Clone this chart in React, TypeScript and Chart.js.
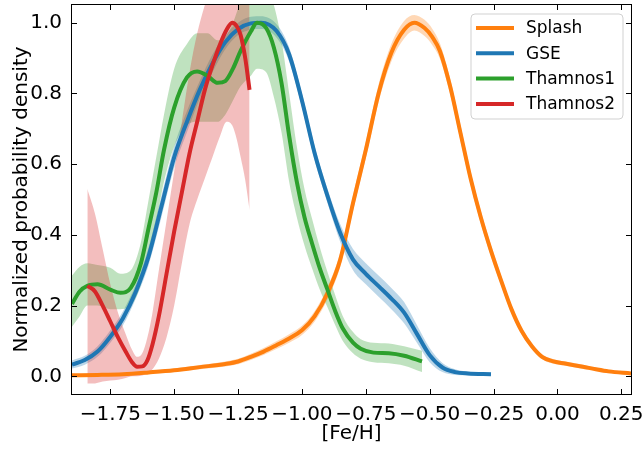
import React, { useEffect, useRef } from "react";
import { Chart, registerables } from "chart.js";

Chart.register(...registerables);

// ---------- data ----------
const SERIES_NAMES = ["Splash", "GSE", "Thamnos1", "Thamnos2"];
const COLORS = ["#ff7f0e", "#1f77b4", "#2ca02c", "#d62728"];
const BAND_COLORS = [
  "rgba(255,127,14,0.3)",
  "rgba(31,119,180,0.3)",
  "rgba(44,160,44,0.3)",
  "rgba(214,39,40,0.3)",
];

const X_TICKS = [-1.75, -1.5, -1.25, -1.0, -0.75, -0.5, -0.25, 0, 0.25];
const Y_TICKS = [0, 0.2, 0.4, 0.6, 0.8, 1.0];

// Splash
const SPLASH_X = [-1.9, -1.8, -1.7, -1.6, -1.5, -1.4, -1.3, -1.25, -1.2, -1.15, -1.1, -1.05, -1.0, -0.95, -0.9, -0.85, -0.8, -0.75, -0.7, -0.65, -0.6, -0.56, -0.52, -0.49, -0.46, -0.42, -0.38, -0.34, -0.3, -0.26, -0.22, -0.18, -0.14, -0.1, -0.06, -0.02, 0.03, 0.1, 0.15, 0.2, 0.288];
const SPLASH_Y = [0.003, 0.004, 0.006, 0.011, 0.017, 0.026, 0.035, 0.042, 0.055, 0.07, 0.088, 0.107, 0.13, 0.17, 0.235, 0.33, 0.49, 0.64, 0.8, 0.915, 0.98, 1.0, 0.985, 0.96, 0.92, 0.82, 0.69, 0.56, 0.45, 0.355, 0.27, 0.19, 0.128, 0.085, 0.055, 0.043, 0.036, 0.027, 0.02, 0.014, 0.008];
const SPLASH_LO = [0.0, 0.001, 0.003, 0.007, 0.012, 0.02, 0.028, 0.034, 0.046, 0.06, 0.077, 0.095, 0.117, 0.155, 0.218, 0.31, 0.468, 0.617, 0.775, 0.89, 0.955, 0.978, 0.962, 0.937, 0.898, 0.798, 0.668, 0.54, 0.432, 0.339, 0.256, 0.178, 0.118, 0.077, 0.048, 0.036, 0.03, 0.021, 0.015, 0.009, 0.004];
const SPLASH_HI = [0.006, 0.007, 0.009, 0.015, 0.022, 0.032, 0.042, 0.05, 0.064, 0.08, 0.099, 0.119, 0.143, 0.185, 0.252, 0.35, 0.512, 0.663, 0.825, 0.94, 1.005, 1.022, 1.008, 0.983, 0.942, 0.842, 0.712, 0.58, 0.468, 0.371, 0.284, 0.202, 0.138, 0.093, 0.062, 0.05, 0.042, 0.033, 0.025, 0.019, 0.012];

// GSE
const GSE_X = [-1.9, -1.85, -1.8, -1.75, -1.7, -1.65, -1.6, -1.55, -1.5, -1.45, -1.4, -1.35, -1.3, -1.25, -1.2, -1.16, -1.1, -1.05, -1.0, -0.95, -0.9, -0.85, -0.8, -0.75, -0.7, -0.65, -0.6, -0.55, -0.5, -0.45, -0.4, -0.35, -0.26];
const GSE_Y = [0.033, 0.046, 0.07, 0.112, 0.165, 0.24, 0.34, 0.48, 0.62, 0.72, 0.81, 0.885, 0.945, 0.982, 0.998, 1.0, 0.977, 0.91, 0.78, 0.63, 0.51, 0.405, 0.33, 0.29, 0.255, 0.22, 0.18, 0.12, 0.06, 0.025, 0.012, 0.008, 0.006];
const GSE_LO = [0.022, 0.033, 0.055, 0.095, 0.145, 0.22, 0.315, 0.45, 0.59, 0.69, 0.785, 0.86, 0.925, 0.965, 0.98, 0.982, 0.958, 0.89, 0.76, 0.61, 0.49, 0.38, 0.3, 0.26, 0.225, 0.19, 0.15, 0.095, 0.04, 0.012, 0.004, 0.003, 0.002];
const GSE_HI = [0.045, 0.058, 0.085, 0.13, 0.185, 0.26, 0.365, 0.51, 0.65, 0.75, 0.835, 0.91, 0.965, 1.0, 1.017, 1.018, 0.996, 0.93, 0.8, 0.65, 0.53, 0.43, 0.36, 0.32, 0.285, 0.25, 0.21, 0.145, 0.08, 0.038, 0.02, 0.013, 0.01];

// Thamnos1
const TH1_X = [-1.9, -1.87, -1.84, -1.8, -1.75, -1.71, -1.67, -1.63, -1.6, -1.57, -1.54, -1.5, -1.45, -1.41, -1.37, -1.33, -1.3, -1.27, -1.24, -1.2, -1.176, -1.14, -1.11, -1.08, -1.05, -1.02, -0.99, -0.96, -0.93, -0.9, -0.87, -0.84, -0.8, -0.77, -0.72, -0.66, -0.6, -0.53];
const TH1_Y = [0.205, 0.24, 0.256, 0.26, 0.245, 0.236, 0.25, 0.32, 0.42, 0.52, 0.64, 0.76, 0.845, 0.862, 0.85, 0.83, 0.835, 0.87, 0.92, 0.975, 1.0, 0.985, 0.93, 0.83, 0.68, 0.55, 0.45, 0.375, 0.305, 0.245, 0.185, 0.135, 0.095, 0.078, 0.067, 0.065, 0.058, 0.042];
const TH1_LO = [0.14, 0.17, 0.2, 0.2, 0.19, 0.19, 0.2, 0.26, 0.35, 0.44, 0.55, 0.65, 0.71, 0.72, 0.72, 0.72, 0.74, 0.78, 0.82, 0.85, 0.87, 0.86, 0.79, 0.69, 0.55, 0.45, 0.37, 0.305, 0.245, 0.195, 0.145, 0.1, 0.065, 0.05, 0.04, 0.037, 0.03, 0.012];
const TH1_HI = [0.285, 0.31, 0.32, 0.315, 0.307, 0.29, 0.3, 0.38, 0.5, 0.62, 0.74, 0.87, 0.94, 0.97, 0.97, 0.95, 0.96, 1.0, 1.06, 1.12, 1.13, 1.1, 1.05, 0.95, 0.8, 0.65, 0.53, 0.445, 0.365, 0.295, 0.23, 0.17, 0.125, 0.105, 0.095, 0.093, 0.085, 0.072];

// Thamnos2
const TH2_X = [-1.84, -1.81, -1.78, -1.75, -1.72, -1.69, -1.665, -1.645, -1.625, -1.605, -1.585, -1.56, -1.53, -1.5, -1.47, -1.44, -1.41, -1.38, -1.35, -1.32, -1.295, -1.273, -1.255, -1.24, -1.222, -1.205];
const TH2_Y = [0.256, 0.24, 0.2, 0.155, 0.11, 0.07, 0.04, 0.027, 0.028, 0.045, 0.09, 0.17, 0.29, 0.41, 0.52, 0.63, 0.72, 0.81, 0.88, 0.94, 0.98, 1.0, 0.99, 0.965, 0.9, 0.81];
const TH2_LO = [-0.02, -0.02, -0.015, -0.012, -0.01, -0.005, 0.0, 0.0, 0.002, 0.008, 0.02, 0.05, 0.11, 0.2, 0.32, 0.43, 0.5, 0.56, 0.62, 0.68, 0.72, 0.71, 0.67, 0.62, 0.555, 0.47];
const TH2_HI = [0.53, 0.46, 0.36, 0.26, 0.18, 0.12, 0.075, 0.055, 0.065, 0.11, 0.18, 0.3, 0.44, 0.58, 0.72, 0.86, 0.97, 1.05, 1.12, 1.2, 1.25, 1.28, 1.28, 1.27, 1.25, 1.2];

const SERIES = [
  { x: SPLASH_X, y: SPLASH_Y, lo: SPLASH_LO, hi: SPLASH_HI },
  { x: GSE_X, y: GSE_Y, lo: GSE_LO, hi: GSE_HI },
  { x: TH1_X, y: TH1_Y, lo: TH1_LO, hi: TH1_HI },
  { x: TH2_X, y: TH2_Y, lo: TH2_LO, hi: TH2_HI },
];

const FONT = "'DejaVu Sans', 'Liberation Sans', sans-serif";

const pts = (xs: number[], ys: number[]) => xs.map((x, i) => ({ x, y: ys[i] }));
const fmtX = (v: number) => v.toFixed(2).replace("-", "\u2212");
const fmtY = (v: number) => v.toFixed(1).replace("-", "\u2212");

const framePlugin = {
  id: "frameTicks",
  afterDatasetsDraw(chart: any) {
    const { ctx, chartArea: a, scales } = chart;
    ctx.save();
    ctx.strokeStyle = "#000";
    ctx.lineWidth = 1;
    const L = 5;
    ctx.beginPath();
    X_TICKS.forEach((v) => {
      const px = Math.round(scales.x.getPixelForValue(v)) + 0.5;
      ctx.moveTo(px, a.bottom);
      ctx.lineTo(px, a.bottom - L);
      ctx.moveTo(px, a.top);
      ctx.lineTo(px, a.top + L);
    });
    Y_TICKS.forEach((v) => {
      const py = Math.round(scales.y.getPixelForValue(v)) + 0.5;
      ctx.moveTo(a.left, py);
      ctx.lineTo(a.left + L, py);
      ctx.moveTo(a.right, py);
      ctx.lineTo(a.right - L, py);
    });
    ctx.stroke();
    ctx.strokeRect(a.left - 0.5, a.top - 0.5, a.right - a.left + 1, a.bottom - a.top + 1);
    ctx.restore();
  },
};

const legendPlugin = {
  id: "boxLegend",
  afterDraw(chart: any) {
    const { ctx, chartArea: a } = chart;
    const items = chart.data.datasets.filter((d: any) => d.isMain);
    const w = 152;
    const h = 105;
    const x0 = a.right - 8 - w;
    const y0 = a.top + 9;
    ctx.save();
    ctx.beginPath();
    const r = 4;
    ctx.moveTo(x0 + r, y0);
    ctx.arcTo(x0 + w, y0, x0 + w, y0 + h, r);
    ctx.arcTo(x0 + w, y0 + h, x0, y0 + h, r);
    ctx.arcTo(x0, y0 + h, x0, y0, r);
    ctx.arcTo(x0, y0, x0 + w, y0, r);
    ctx.closePath();
    ctx.fillStyle = "rgba(255,255,255,0.8)";
    ctx.fill();
    ctx.strokeStyle = "rgba(204,204,204,0.9)";
    ctx.lineWidth = 1;
    ctx.stroke();
    items.forEach((d: any, i: number) => {
      const yy = y0 + 14 + i * 25.3;
      ctx.strokeStyle = d.borderColor;
      ctx.lineWidth = 4;
      ctx.beginPath();
      ctx.moveTo(x0 + 5, yy);
      ctx.lineTo(x0 + 43, yy);
      ctx.stroke();
      ctx.fillStyle = "#000";
      ctx.font = `17px ${FONT}`;
      ctx.textBaseline = "middle";
      ctx.textAlign = "left";
      ctx.fillText(d.label, x0 + 55, yy + 1);
    });
    ctx.restore();
  },
};

export default function App() {
  const ref = useRef<HTMLCanvasElement>(null);
  useEffect(() => {
    document.body.style.margin = "0";
    const datasets: any[] = [];
    const n = SERIES.length;
    SERIES.forEach((s, i) => {
      const bandOrder = 100 - i;
      datasets.push({
        label: SERIES_NAMES[i] + " lower",
        data: pts(s.x, s.lo),
        borderWidth: 0,
        pointRadius: 0,
        fill: false,
        cubicInterpolationMode: "monotone",
        order: bandOrder,
      });
      datasets.push({
        label: SERIES_NAMES[i] + " upper",
        data: pts(s.x, s.hi),
        borderWidth: 0,
        pointRadius: 0,
        fill: "-1",
        backgroundColor: BAND_COLORS[i],
        cubicInterpolationMode: "monotone",
        order: bandOrder,
      });
    });
    SERIES.forEach((s, i) => {
      datasets.push({
        label: SERIES_NAMES[i],
        isMain: true,
        data: pts(s.x, s.y),
        borderColor: COLORS[i],
        borderWidth: 4,
        pointRadius: 0,
        fill: false,
        cubicInterpolationMode: "monotone",
        borderCapStyle: "butt",
        order: n - i,
      });
    });

    const chart = new Chart(ref.current!, {
      type: "line",
      data: { datasets },
      options: {
        responsive: false,
        animation: false,
        devicePixelRatio: 1,
        layout: { padding: { top: 5, right: 12, left: 0, bottom: 0 } },
        plugins: { legend: { display: false }, tooltip: { enabled: false } },
        scales: {
          x: {
            type: "linear",
            min: -1.9,
            max: 0.288,
            grid: { display: false, drawTicks: false },
            border: { display: false },
            afterBuildTicks: (sc: any) => {
              sc.ticks = X_TICKS.map((v) => ({ value: v }));
            },
            afterFit: (sc: any) => {
              sc.height = 56;
              sc.paddingLeft = 0;
              sc.paddingRight = 0;
            },
            ticks: {
              autoSkip: false,
              maxRotation: 0,
              padding: 9,
              color: "#000",
              font: { family: FONT, size: 20 },
              callback: (v: any) => fmtX(Number(v)),
            },
            title: {
              display: true,
              text: "[Fe/H]",
              color: "#000",
              font: { family: FONT, size: 20 },
              padding: { top: 0, bottom: 4 },
            },
          },
          y: {
            type: "linear",
            min: -0.05,
            max: 1.05,
            grid: { display: false, drawTicks: false },
            border: { display: false },
            afterBuildTicks: (sc: any) => {
              sc.ticks = Y_TICKS.map((v) => ({ value: v }));
            },
            afterFit: (sc: any) => {
              sc.width = 72;
              sc.paddingTop = 0;
              sc.paddingBottom = 0;
            },
            ticks: {
              autoSkip: false,
              padding: 10,
              color: "#000",
              font: { family: FONT, size: 20 },
              callback: (v: any) => fmtY(Number(v)),
            },
            title: {
              display: true,
              text: "Normalized probability density",
              color: "#000",
              font: { family: FONT, size: 20 },
              padding: { top: 10, bottom: 0 },
            },
          },
        },
      },
      plugins: [framePlugin, legendPlugin],
    } as any);
    return () => chart.destroy();
  }, []);
  return (
    <div style={{ position: "relative", width: 643, height: 450 }}>
      <canvas ref={ref} width={643} height={450} />
    </div>
  );
}
